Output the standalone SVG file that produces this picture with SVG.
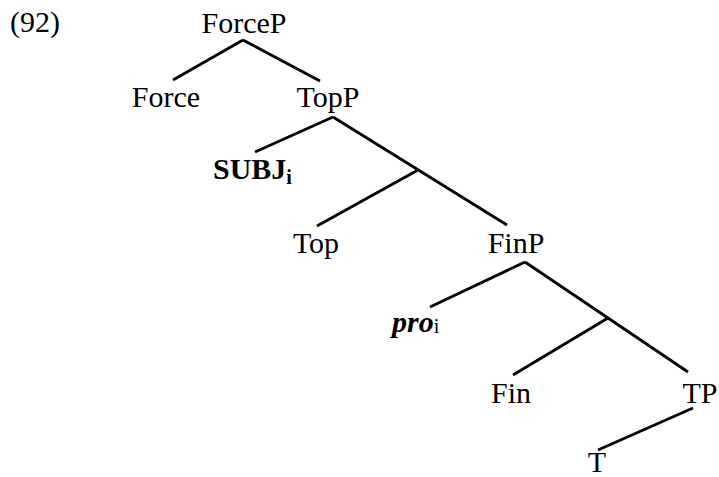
<svg xmlns="http://www.w3.org/2000/svg" width="719" height="477" viewBox="0 0 719 477">
<style>
text{font-family:"Liberation Serif","Times New Roman",serif;font-size:30px;fill:#000}
.sub{font-size:20px}
line{stroke:#000;stroke-width:2.8;stroke-linecap:butt}
</style>
<rect width="719" height="477" fill="#fff"/>
<text x="10" y="32">(92)</text>
<g id="connectors">
<line x1="243" y1="40" x2="173" y2="80"/>
<line x1="243" y1="40" x2="320" y2="81"/>
<line x1="333" y1="117" x2="255" y2="152"/>
<line x1="333" y1="117" x2="507" y2="225"/>
<line x1="418" y1="170" x2="317" y2="226"/>
<line x1="525" y1="262" x2="430" y2="307"/>
<line x1="525" y1="262" x2="688" y2="372"/>
<line x1="608" y1="318" x2="513" y2="375"/>
<line x1="693" y1="408" x2="598" y2="450"/>
</g>
<g id="ForceP"><text x="244" y="33" text-anchor="middle">ForceP</text></g>
<g id="Force"><text x="166" y="107" text-anchor="middle">Force</text></g>
<g id="TopP"><text x="328" y="107" text-anchor="middle">TopP</text></g>
<g id="SUBJ"><text x="213" y="179" font-weight="bold">SUBJ<tspan class="sub" dy="5">i</tspan></text></g>
<g id="Top"><text x="316" y="253" text-anchor="middle">Top</text></g>
<g id="FinP"><text x="516" y="253" text-anchor="middle">FinP</text></g>
<g id="pro"><text x="392" y="332" font-weight="bold" font-style="italic">pro<tspan class="sub" font-style="normal" font-weight="normal" dy="1">i</tspan></text></g>
<g id="Fin"><text x="511" y="403" text-anchor="middle">Fin</text></g>
<g id="TP"><text x="700" y="403" text-anchor="middle">TP</text></g>
<g id="T"><text x="597" y="472" text-anchor="middle">T</text></g>
</svg>
